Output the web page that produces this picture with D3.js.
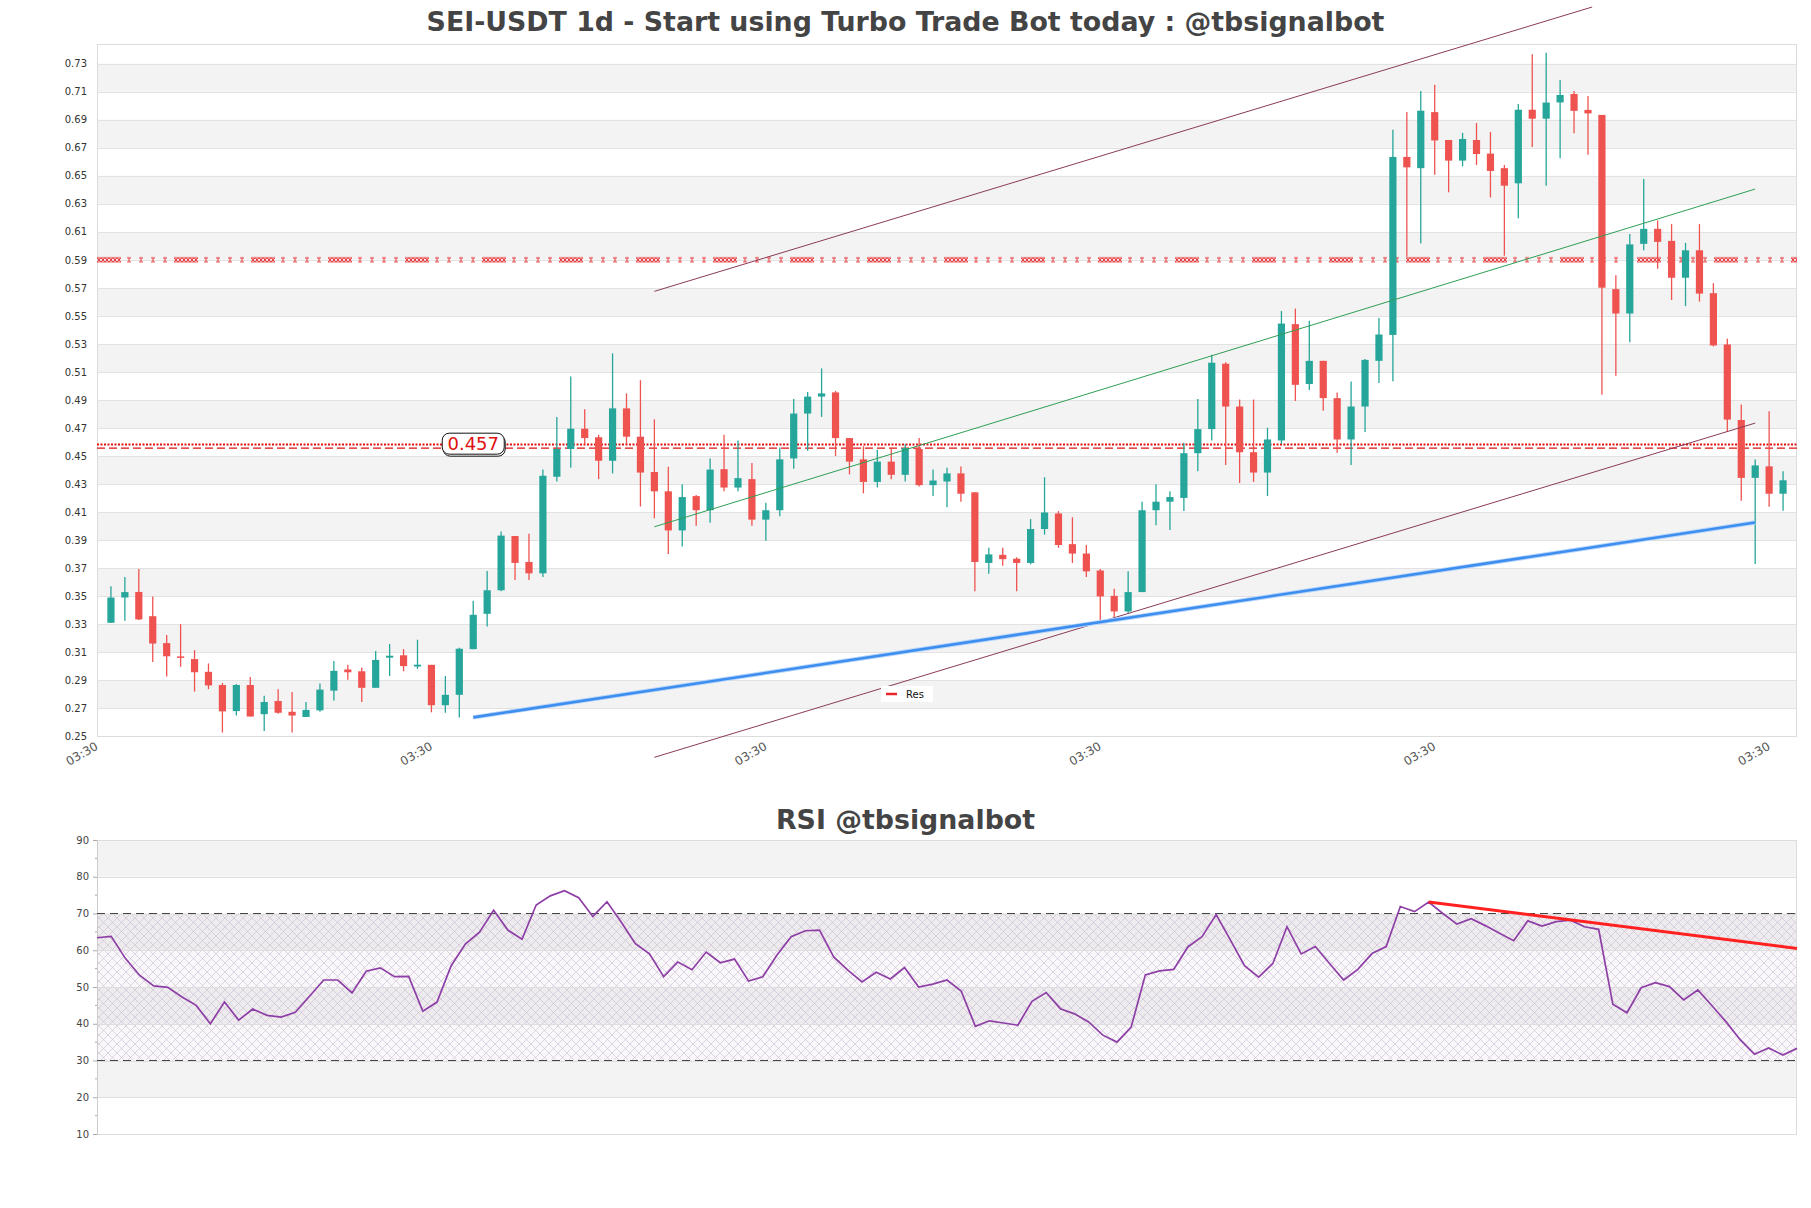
<!DOCTYPE html>
<html>
<head>
<meta charset="utf-8">
<script src="https://cdn.jsdelivr.net/npm/d3@7"></script>
<style>
  html, body { margin: 0; padding: 0; background: #fff; }
  svg { display: block; }
  text { font-family: "DejaVu Sans", sans-serif; }
</style>
</head>
<body>
<svg id="chart" width="1811" height="1208"></svg>
<script>
// ---------------- DATA ----------------
const chartTitle = "SEI-USDT 1d - Start using Turbo Trade Bot today : @tbsignalbot";
const rsiTitle = "RSI @tbsignalbot";

const opens = [0.331,0.349,0.353,0.3357,0.3165,0.307,0.3051,0.296,0.2866,0.268,0.2866,0.2658,0.2752,0.2675,0.2638,0.2685,0.2826,0.2977,0.2964,0.2846,
0.3061,0.3078,0.2998,0.301,0.2722,0.2796,0.3122,0.3374,0.3542,0.3929,0.3744,0.3663,0.4352,0.455,0.4695,0.4634,0.4466,0.484,0.4638,0.4386,
0.4248,0.3969,0.4214,0.4113,0.4406,0.4275,0.4335,0.4046,0.4113,0.4483,0.4803,0.4924,0.4954,0.4628,0.4476,0.4315,0.446,0.4366,0.455,0.4292,
0.4318,0.4376,0.4241,0.3737,0.3795,0.3767,0.3737,0.3979,0.409,0.3871,0.3804,0.3683,0.3502,0.3391,0.3529,0.4113,0.4174,0.4201,0.452,0.4692,
0.5159,0.4853,0.4527,0.4382,0.4611,0.5441,0.5014,0.5179,0.4913,0.4618,0.4853,0.5179,0.5364,0.6634,0.6554,0.6954,0.6755,0.6608,0.6755,0.6658,
0.6554,0.6446,0.6971,0.6907,0.7023,0.7083,0.697,0.6934,0.5691,0.5517,0.6014,0.6121,0.6035,0.5772,0.5968,0.5662,0.5296,0.4757,0.4344,0.4426,
0.4231];
const highs = [0.357,0.3636,0.3693,0.3498,0.3223,0.330,0.3115,0.302,0.288,0.2873,0.2923,0.2789,0.2836,0.2816,0.2745,0.2877,0.3038,0.3011,0.2991,0.3109,
0.3159,0.3122,0.3189,0.301,0.293,0.3132,0.3468,0.368,0.3962,0.3929,0.3945,0.4403,0.4779,0.5068,0.4833,0.4651,0.5233,0.4947,0.5041,0.4762,
0.4423,0.4298,0.4221,0.4483,0.4651,0.4611,0.445,0.4167,0.456,0.4907,0.4957,0.5125,0.4964,0.4628,0.457,0.4544,0.455,0.4584,0.4628,0.4403,
0.4416,0.4426,0.4241,0.3845,0.3845,0.3777,0.405,0.4349,0.4107,0.4063,0.3865,0.3693,0.3552,0.3677,0.4174,0.4298,0.4248,0.4594,0.4907,0.5223,
0.5169,0.4903,0.4903,0.4702,0.5535,0.5552,0.5465,0.5179,0.4954,0.5031,0.5192,0.5485,0.6829,0.6954,0.7105,0.7149,0.6755,0.6806,0.6876,0.6813,
0.6577,0.7011,0.7367,0.7378,0.7183,0.7105,0.7069,0.6934,0.579,0.6085,0.6476,0.6181,0.6155,0.6021,0.6155,0.5733,0.5336,0.4867,0.4476,0.482,
0.4391];
const lows = [0.331,0.3324,0.333,0.3031,0.2927,0.2996,0.2819,0.2836,0.2527,0.2648,0.2641,0.2537,0.2661,0.2527,0.2638,0.2675,0.2755,0.2903,0.2745,0.2846,
0.293,0.2964,0.2981,0.2671,0.2668,0.2634,0.3122,0.3283,0.3535,0.3616,0.3616,0.3636,0.4318,0.4416,0.4584,0.4335,0.4376,0.4584,0.414,0.4056,
0.38,0.3855,0.4003,0.4023,0.4248,0.4248,0.4003,0.3895,0.407,0.4409,0.4537,0.4779,0.45,0.4369,0.4234,0.4275,0.4335,0.4318,0.4282,0.4214,
0.4134,0.4174,0.3535,0.366,0.3717,0.3535,0.3727,0.3939,0.3845,0.3737,0.3636,0.3324,0.3334,0.3377,0.3529,0.4006,0.3972,0.4107,0.4392,0.4611,
0.4436,0.4308,0.4315,0.4214,0.4587,0.4893,0.4971,0.4823,0.4524,0.4436,0.4671,0.5021,0.5034,0.5922,0.6016,0.6507,0.6382,0.6567,0.6577,0.6345,
0.5929,0.6197,0.6705,0.6428,0.6625,0.6803,0.665,0.4938,0.5073,0.5311,0.5968,0.5836,0.5613,0.557,0.5602,0.5282,0.4671,0.4181,0.373,0.4138,
0.411];
const closes = [0.349,0.3529,0.3334,0.3162,0.3071,0.306,0.2957,0.2863,0.2678,0.2866,0.2641,0.2745,0.2668,0.2648,0.2688,0.2833,0.2967,0.2957,0.2846,0.3045,
0.3075,0.3001,0.3011,0.2722,0.2796,0.3125,0.3367,0.3542,0.3932,0.3737,0.3663,0.4359,0.455,0.4695,0.4628,0.4466,0.484,0.4638,0.4382,0.4248,
0.3969,0.4207,0.4113,0.4403,0.4275,0.4342,0.4046,0.4113,0.4476,0.4803,0.4924,0.4947,0.4628,0.446,0.4315,0.446,0.4366,0.4557,0.4292,0.4325,
0.4376,0.4231,0.3744,0.3798,0.3764,0.3737,0.3979,0.4097,0.3865,0.3804,0.3677,0.3498,0.3391,0.3529,0.4113,0.4174,0.4207,0.452,0.4692,0.5166,
0.4853,0.4527,0.4382,0.4618,0.5445,0.5008,0.5179,0.4913,0.4618,0.4853,0.5186,0.5367,0.6634,0.656,0.6964,0.6752,0.6608,0.6762,0.6655,0.6534,
0.6429,0.6971,0.6907,0.7022,0.7076,0.6963,0.6945,0.5701,0.5517,0.601,0.6121,0.6028,0.5772,0.5968,0.5659,0.5289,0.476,0.4344,0.4433,0.4231,
0.4327];

const rsiValues = [63.4,63.8,57.8,53.2,50.3,49.9,47.3,45.0,40.0,45.9,41.0,44.0,42.3,41.8,43.1,47.5,51.9,51.9,48.4,54.3,
55.2,52.8,52.9,43.4,45.9,55.8,61.7,64.9,70.9,65.5,63.0,72.3,74.8,76.2,74.3,69.2,73.2,67.7,61.8,59.0,
52.8,56.8,54.7,59.5,56.6,57.6,51.6,52.8,58.7,63.7,65.3,65.5,58.2,54.6,51.4,54.0,52.2,55.3,50.0,50.8,
51.9,48.9,39.3,40.8,40.2,39.6,46.1,48.5,44.1,42.7,40.5,36.9,35.0,39.1,53.3,54.4,54.8,60.9,63.7,69.7,
62.8,55.8,52.7,56.4,66.4,59.0,61.0,56.4,51.9,54.8,59.1,61.0,71.9,70.5,73.1,70.0,67.1,68.6,66.7,64.6,
62.6,68.0,66.6,67.8,68.2,66.4,65.7,45.3,43.0,49.8,51.2,50.1,46.5,49.2,44.9,40.5,35.6,31.7,33.4,31.5,
33.3];

const priceTicks = [0.25,0.27,0.29,0.31,0.33,0.35,0.37,0.39,0.41,0.43,0.45,0.47,0.49,0.51,0.53,0.55,0.57,0.59,0.61,0.63,0.65,0.67,0.69,0.71,0.73];
const timeTickIdx = [-1, 23, 47, 71, 95, 119];
const timeTickLabels = ["03:30","03:30","03:30","03:30","03:30","03:30"];
const rsiTicks = [10,20,30,40,50,60,70,80,90];
const rsiMinorTicks = [15,25,35,45,55,65,75,85];
const rsiLevels = [30, 70];

// horizontal levels
const resLevel = 0.59;
const level457Dotted = 0.4583;
const level457Dashed = 0.4556;
const levelLabel = {idx: 26, value: 0.4588, text: "0.457"};

// trend lines [index, value]
const upperChannel = [[39, 0.5675], [106.3, 0.7704]];
const lowerChannel = [[39, 0.2350], [118, 0.4735]];
const greenTrend = [[39, 0.3995], [118, 0.6405]];
const blueSupport = [[26, 0.2635], [118, 0.4025]];
const rsiTrend = [[94, 73.1], [120, 60.5]];

// ---------------- DRAW ----------------
const svg = d3.select("#chart");
const W = 1811;
const M = {left: 97, right: 1797, top: 44, bottom: 737};
const R = {top: 840, bottom: 1134};

const x = d3.scaleLinear().domain([-1, 121]).range([M.left, M.right]);
const y = d3.scaleLinear().domain([0.2495, 0.744]).range([M.bottom, M.top]);
const xr = d3.scaleLinear().domain([0, 120]).range([M.left, M.right]);
const yr = d3.scaleLinear().domain([10, 90]).range([R.bottom, R.top]);

const GREEN = "#26a69a", RED = "#ef5350";

// defs
const defs = svg.append("defs");
const hatch = defs.append("pattern").attr("id", "hatch").attr("patternUnits", "userSpaceOnUse")
  .attr("width", 9).attr("height", 9);
hatch.append("path").attr("d", "M0,0 L9,9 M9,0 L0,9").attr("stroke", "#c8bccf").attr("stroke-width", 0.6).attr("fill", "none");

// line-style pattern for the 0.59 resistance line
const resY = y(resLevel);
const resPat = defs.append("pattern").attr("id", "resPat").attr("patternUnits", "userSpaceOnUse")
  .attr("width", 77).attr("height", 6).attr("x", M.left).attr("y", resY - 3);
let pd = "M0,1 L4,5 L8,1 L12,5 L16,1 L20,5 L24,1 M0,5 L4,1 L8,5 L12,1 L16,5 L20,1 L24,5 M0,1 H24 M0,5 H24";
[32, 44, 56, 68].forEach(cx => { pd += ` M${cx - 2},1 H${cx + 2} M${cx - 2},5 H${cx + 2} M${cx},1 V5`; });
resPat.append("path").attr("d", pd).attr("stroke", "#e8262a").attr("stroke-width", 0.9).attr("fill", "none");

// Titles
svg.append("text").attr("x", W / 2).attr("y", 31).attr("text-anchor", "middle")
  .attr("font-size", 26.8).attr("font-weight", "bold").attr("fill", "#444").text(chartTitle);
svg.append("text").attr("x", W / 2).attr("y", 829).attr("text-anchor", "middle")
  .attr("font-size", 26.8).attr("font-weight", "bold").attr("fill", "#444").text(rsiTitle);

// ---- main plot background bands
const main = svg.append("g");
const bandLows = priceTicks.filter((t, i) => i >= 1 && i < priceTicks.length - 1 && (i % 2 === 1));
main.selectAll("rect.band").data(bandLows).join("rect").attr("class", "band")
  .attr("x", M.left).attr("width", M.right - M.left)
  .attr("y", d => y(d + 0.02)).attr("height", d => y(d) - y(d + 0.02))
  .attr("fill", "#f3f3f3");

main.selectAll("line.grid").data(priceTicks).join("line").attr("class", "grid")
  .attr("x1", M.left).attr("x2", M.right)
  .attr("y1", d => Math.round(y(d)) + 0.5).attr("y2", d => Math.round(y(d)) + 0.5)
  .attr("stroke", "#e2e2e2").attr("stroke-width", 1);

main.append("rect").attr("x", M.left + 0.5).attr("y", M.top + 0.5)
  .attr("width", M.right - M.left - 1).attr("height", M.bottom - M.top - 1)
  .attr("fill", "none").attr("stroke", "#dcdcdc");

// Y axis
const yAxis = d3.axisLeft(y).tickValues(priceTicks).tickFormat(d3.format(".2f")).tickSize(0).tickPadding(10);
const yg = main.append("g").attr("transform", `translate(${M.left},0)`).call(yAxis);
yg.select(".domain").remove();
yg.selectAll("text").attr("font-size", 10).attr("fill", "#333").attr("font-family", "DejaVu Sans");

// X axis
const xAxis = d3.axisBottom(x).tickValues(timeTickIdx).tickFormat((d, i) => timeTickLabels[i]).tickSize(0);
const xg = main.append("g").attr("transform", `translate(0,${M.bottom})`).call(xAxis);
xg.select(".domain").remove();
xg.selectAll("text").attr("font-size", 12).attr("fill", "#555").attr("font-family", "DejaVu Sans")
  .attr("text-anchor", "end").attr("dy", null).attr("y", null)
  .attr("transform", "translate(-3,4) rotate(-30)").attr("dominant-baseline", "hanging");

// resistance line 0.59 (patterned)
main.append("rect").attr("x", M.left).attr("width", M.right - M.left)
  .attr("y", resY - 3).attr("height", 6).attr("fill", "url(#resPat)");

// 0.457 lines
main.append("line").attr("x1", M.left).attr("x2", M.right)
  .attr("y1", y(level457Dotted)).attr("y2", y(level457Dotted))
  .attr("stroke", "#e01010").attr("stroke-width", 2).attr("stroke-dasharray", "2,1.5");
main.append("line").attr("x1", M.left).attr("x2", M.right)
  .attr("y1", y(level457Dashed)).attr("y2", y(level457Dashed))
  .attr("stroke", "#e01010").attr("stroke-width", 1.2).attr("stroke-dasharray", "8,4");

// Candles
const idx = d3.range(opens.length);
const candles = main.append("g");
candles.selectAll("line.wick").data(idx).join("line").attr("class", "wick")
  .attr("x1", i => x(i)).attr("x2", i => x(i))
  .attr("y1", i => y(highs[i])).attr("y2", i => y(lows[i]))
  .attr("stroke", i => closes[i] >= opens[i] ? GREEN : RED).attr("stroke-width", 1.3);
candles.selectAll("rect.body").data(idx).join("rect").attr("class", "body")
  .attr("x", i => x(i) - 3.6).attr("width", 7.2)
  .attr("y", i => y(Math.max(opens[i], closes[i])))
  .attr("height", i => Math.max(1.5, Math.abs(y(opens[i]) - y(closes[i]))))
  .attr("fill", i => closes[i] >= opens[i] ? GREEN : RED);

// Trend lines
const line = d3.line().x(d => x(d[0])).y(d => y(d[1]));
main.append("path").datum(upperChannel).attr("d", line).attr("stroke", "#8a3b57").attr("stroke-width", 1).attr("fill", "none");
main.append("path").datum(lowerChannel).attr("d", line).attr("stroke", "#8a3b57").attr("stroke-width", 1).attr("fill", "none");
main.append("path").datum(greenTrend).attr("d", line).attr("stroke", "#2f9e55").attr("stroke-width", 1).attr("fill", "none");
main.append("path").datum(blueSupport).attr("d", line).attr("stroke", "#b8d6fb").attr("stroke-width", 4.5).attr("fill", "none");
main.append("path").datum(blueSupport).attr("d", line).attr("stroke", "#3d8eef").attr("stroke-width", 2.6).attr("fill", "none");

// Level label
const lx = x(levelLabel.idx), ly = y(levelLabel.value);
const lw = 62, lh = 21;
main.append("rect").attr("x", lx - lw / 2 + 1).attr("y", ly - lh / 2 + 2).attr("width", lw).attr("height", lh)
  .attr("rx", 7).attr("fill", "#fff").attr("stroke", "#111").attr("stroke-width", 1);
main.append("rect").attr("x", lx - lw / 2).attr("y", ly - lh / 2).attr("width", lw).attr("height", lh)
  .attr("rx", 7).attr("fill", "#fff").attr("stroke", "#111").attr("stroke-width", 1);
main.append("text").attr("x", lx).attr("y", ly + 6.5).attr("text-anchor", "middle")
  .attr("font-size", 18).attr("fill", "#e01010").text(levelLabel.text);

// Legend "Res"
const lg = main.append("g").attr("transform", "translate(881,686)");
lg.append("rect").attr("width", 52).attr("height", 16).attr("fill", "#fff");
lg.append("line").attr("x1", 5).attr("x2", 16).attr("y1", 8).attr("y2", 8).attr("stroke", "#e8262a").attr("stroke-width", 2.5);
lg.append("text").attr("x", 25).attr("y", 12).attr("font-size", 10).attr("fill", "#111").text("Res");

// ---- RSI plot
const rg = svg.append("g");
const rsiBandLows = [20, 40, 60, 80];
rg.selectAll("rect.band").data(rsiBandLows).join("rect")
  .attr("x", M.left).attr("width", M.right - M.left)
  .attr("y", d => yr(d + 10)).attr("height", d => yr(d) - yr(d + 10)).attr("fill", "#f3f3f3");
rg.append("rect").attr("x", M.left).attr("width", M.right - M.left)
  .attr("y", yr(rsiLevels[1])).attr("height", yr(rsiLevels[0]) - yr(rsiLevels[1]))
  .attr("fill", "rgba(150,100,175,0.05)");
rg.append("rect").attr("x", M.left).attr("width", M.right - M.left)
  .attr("y", yr(rsiLevels[1])).attr("height", yr(rsiLevels[0]) - yr(rsiLevels[1]))
  .attr("fill", "url(#hatch)");
rg.selectAll("line.grid").data(rsiTicks).join("line")
  .attr("x1", M.left).attr("x2", M.right)
  .attr("y1", d => Math.round(yr(d)) + 0.5).attr("y2", d => Math.round(yr(d)) + 0.5)
  .attr("stroke", "#dedede");
rg.append("rect").attr("x", M.left + 0.5).attr("y", R.top + 0.5)
  .attr("width", M.right - M.left - 1).attr("height", R.bottom - R.top)
  .attr("fill", "none").attr("stroke", "#dcdcdc");

const rAxis = d3.axisLeft(yr).tickValues(rsiTicks).tickSize(4).tickPadding(4);
const rag = rg.append("g").attr("transform", `translate(${M.left},0)`).call(rAxis);
rag.select(".domain").attr("stroke", "#ccc");
rag.selectAll(".tick line").attr("stroke", "#aaa");
rag.selectAll("text").attr("font-size", 10).attr("fill", "#444");
rag.selectAll("line.minor").data(rsiMinorTicks).join("line").attr("class", "minor")
  .attr("x1", -2).attr("x2", 0).attr("y1", d => yr(d)).attr("y2", d => yr(d)).attr("stroke", "#aaa");

rg.selectAll("line.level").data(rsiLevels).join("line")
  .attr("x1", M.left).attr("x2", M.right).attr("y1", d => yr(d)).attr("y2", d => yr(d))
  .attr("stroke", "#444").attr("stroke-width", 1.2).attr("stroke-dasharray", "8,5");

const rline = d3.line().x((d, i) => xr(i)).y(d => yr(d));
rg.append("path").datum(rsiValues).attr("d", rline).attr("fill", "none")
  .attr("stroke", "#8e3fa6").attr("stroke-width", 1.7);

const rtl = d3.line().x(d => xr(d[0])).y(d => yr(d[1]));
rg.append("path").datum(rsiTrend).attr("d", rtl).attr("fill", "none")
  .attr("stroke", "#ff2020").attr("stroke-width", 3);
</script>
</body>
</html>
